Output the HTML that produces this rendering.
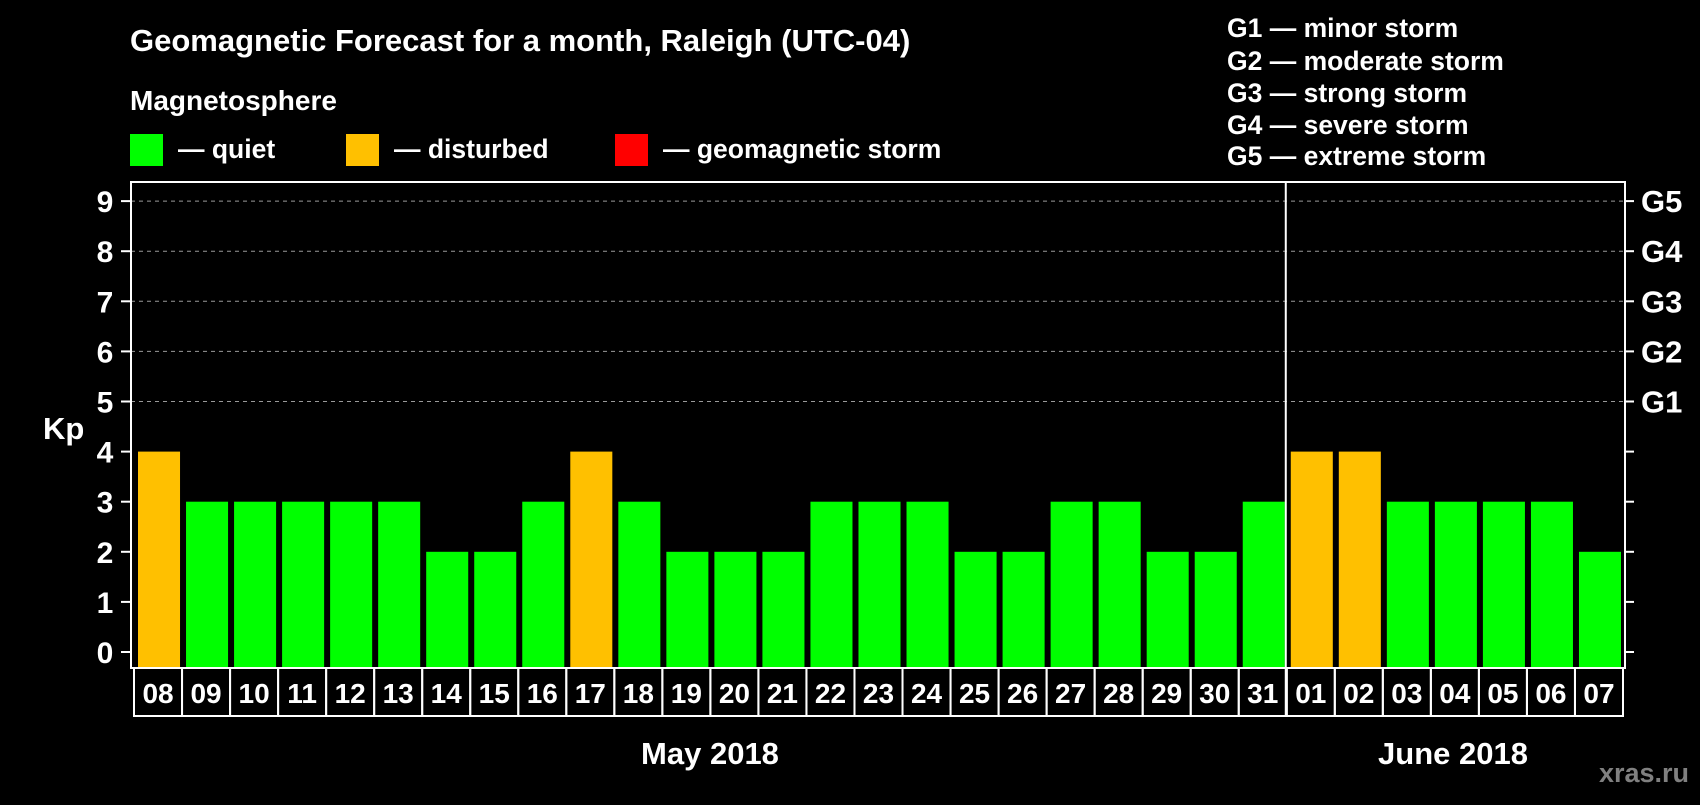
<!DOCTYPE html>
<html><head><meta charset="utf-8"><style>
body{margin:0;background:#000;width:1700px;height:800px;overflow:hidden}
svg text{font-family:"Liberation Sans",Arial,sans-serif;font-weight:bold;fill:#fff}
</style></head><body>
<svg id="c" width="1700" height="800">
<text x="130" y="51" font-size="31">Geomagnetic Forecast for a month, Raleigh (UTC-04)</text>
<text x="130" y="110" font-size="28">Magnetosphere</text>
<rect x="130" y="134" width="33" height="32" fill="#00ff00"/>
<text x="178" y="158" font-size="26.5">— quiet</text>
<rect x="346" y="134" width="33" height="32" fill="#ffc000"/>
<text x="394" y="158" font-size="26.5">— disturbed</text>
<rect x="615" y="134" width="33" height="32" fill="#ff0000"/>
<text x="663" y="158" font-size="26.5">— geomagnetic storm</text>
<g font-size="26.5">
<text x="1227" y="37">G1 — minor storm</text>
<text x="1227" y="70">G2 — moderate storm</text>
<text x="1227" y="102">G3 — strong storm</text>
<text x="1227" y="134">G4 — severe storm</text>
<text x="1227" y="165">G5 — extreme storm</text>
</g>
<text x="43" y="439" font-size="31">Kp</text>
<text x="710" y="764" font-size="31" text-anchor="middle">May 2018</text>
<text x="1453" y="764" font-size="31" text-anchor="middle">June 2018</text>
<text x="1689" y="782" font-size="27" text-anchor="end" style="fill:#808080">xras.ru</text>
<g id="plot"></g>
</svg>
<script>
const days=["08","09","10","11","12","13","14","15","16","17","18","19","20","21","22","23","24","25","26","27","28","29","30","31","01","02","03","04","05","06","07"];
const kp=[4,3,3,3,3,3,2,2,3,4,3,2,2,2,3,3,3,2,2,3,3,2,2,3,4,4,3,3,3,3,2];
const yTicks=[0,1,2,3,4,5,6,7,8,9];
const gLabels=["G1","G2","G3","G4","G5"];
const monthBreak=24;
const NS="http://www.w3.org/2000/svg";
const g=document.getElementById('plot');
const L=131,R=1625,T=182,B=668,LB=716;
const y=v=>652-v*50.1;
const x0=134,step=(1623-134)/days.length;
const xs=i=>x0+i*step;
function mk(t,a){const e=document.createElementNS(NS,t);for(const k in a)e.setAttribute(k,a[k]);g.appendChild(e);return e;}
yTicks.forEach(v=>{
  if(v>=5){const l=mk('line',{x1:L,x2:R,y1:y(v),y2:y(v),stroke:'#999','stroke-dasharray':'4,4','stroke-width':1});
  
  }
  const t1=mk('line',{x1:121,x2:L,y1:y(v),y2:y(v),stroke:'#fff','stroke-width':2});
  
  
  const t2=mk('line',{x1:R,x2:1634,y1:y(v),y2:y(v),stroke:'#fff','stroke-width':2});
  
  
  const tx=mk('text',{x:105,y:y(v)+11,'font-size':30,'text-anchor':'middle'});tx.textContent=v;
  
  
});
gLabels.forEach((s,i)=>{
  const tx=mk('text',{x:1641,y:y(5+i)+11,'font-size':31});tx.textContent=s;
  
  
});
kp.forEach((v,i)=>{
  const r=mk('rect',{x:xs(i)+4,y:y(v),width:step-6,height:B-y(v),fill:v>=5?'#ff0000':v>=4?'#ffc000':'#00ff00'});
  
  
});
const fr=mk('rect',{x:L,y:T,width:R-L,height:B-T,fill:'none',stroke:'#fff','stroke-width':2});


days.forEach((d,i)=>{
  const c=mk('rect',{x:xs(i),y:B,width:step,height:LB-B,fill:'none',stroke:'#fff','stroke-width':2});
  
  
  const t=mk('text',{x:xs(i)+step/2,y:B+35,'font-size':28,'text-anchor':'middle'});t.textContent=d;
  
  
});
const sep=mk('line',{x1:xs(monthBreak)-1,x2:xs(monthBreak)-1,y1:T,y2:LB,stroke:'#fff','stroke-width':2});


</script>
</body></html>
